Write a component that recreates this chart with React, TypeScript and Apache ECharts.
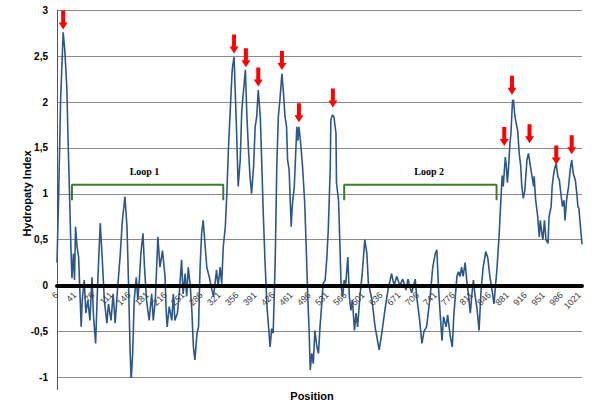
import React, { useEffect, useRef } from 'react';
import * as echarts from 'echarts';

// Residue positions (window centre) and hydropathy values
const positions = [
  6, 9, 13, 18, 21, 25, 28, 31, 33, 35, 38, 40, 42, 45, 48, 53, 55, 59, 62, 66, 70, 74, 77, 81, 85, 90, 94, 98,
  103, 106, 111, 115, 119, 124, 129, 133, 138, 142, 145, 148, 150, 153, 156, 160, 163, 166, 169, 173, 176, 180,
  185, 190, 193, 197, 202, 206, 211, 216, 218, 220, 224, 229, 232, 235, 240, 244, 248, 251, 255, 258, 261, 265,
  268, 271, 274, 278, 281, 284, 287, 290, 294, 297, 302, 307, 310, 313, 316, 319, 323, 326, 329, 333, 336, 339,
  342, 346, 347, 350, 352, 355, 358, 362, 365, 368, 372, 375, 378, 381, 384, 388, 391, 394, 397, 401, 404, 407,
  410, 414, 417, 420, 423, 426, 430, 433, 436, 439, 443, 446, 449, 452, 454, 457, 461, 463, 467, 472, 474, 476,
  479, 483, 487, 490, 493, 496, 498, 501, 504, 507, 511, 514, 517, 520, 523, 527, 530, 533, 537, 538, 541, 544,
  548, 549, 553, 556, 558, 561, 564, 567, 571, 574, 577, 580, 584, 587, 590, 595, 599, 604, 608, 611, 614, 618,
  624, 632, 637, 643, 649, 656, 661, 666, 672, 678, 684, 688, 695, 702, 705, 710, 715, 719, 724, 731, 736, 741,
  744, 747, 750, 754, 757, 762, 765, 770, 774, 777, 783, 786, 789, 792, 795, 799, 802, 805, 809, 812, 815, 818,
  822, 826, 830, 834, 839, 843, 847, 852, 855, 858, 861, 865, 869, 871, 873, 877, 879, 881, 883, 886, 888, 891,
  893, 895, 897, 901, 904, 907, 909, 912, 915, 919, 922, 925, 928, 932, 933, 936, 940, 943, 945, 948, 950, 953,
  956, 960, 962, 966, 968, 971, 974, 976, 979, 982, 985, 988, 991, 993, 996, 1000, 1003, 1006, 1009, 1013, 1016,
  1018, 1020, 1023, 1026,
];
const values = [
  0.25, 0.93, 2.02, 2.76, 2.58, 2.17, 1.48, 0.86, 0.42, 0.08, 0.35, 0.06, 0.64, 0.42, 0.31, -0.45, -0.16, 0.06,
  -0.3, -0.16, -0.38, 0.09, -0.34, -0.63, 0.02, 0.68, 0.28, -0.16, -0.41, -0.2, -0.38, -0.09, -0.41, -0.01, 0.35,
  0.71, 0.97, 0.64, 0.02, -0.7, -1.03, -0.74, -0.16, 0.09, -0.16, 0.06, 0.35, 0.57, 0.2, -0.16, -0.38, -0.09,
  -0.38, -0.16, 0.53, 0.2, 0.38, 0.09, -0.27, -0.45, -0.23, -0.38, -0.09, -0.38, -0.3, -0.05, 0.28, -0.09, 0.13,
  -0.12, 0.2, -0.01, -0.27, -0.67, -0.81, -0.52, -0.45, 0.2, 0.57, 0.71, 0.42, 0.2, 0.09, -0.05, -0.12, 0.02,
  0.17, -0.01, 0.2, 0.02, 0.42, 0.64, 1.0, 1.48, 1.84, 2.31, 2.38, 2.49, 2.16, 1.66, 1.08, 1.37, 1.91, 2.1, 2.35,
  1.84, 1.48, 1.19, 1.0, 1.3, 1.73, 1.84, 2.13, 1.84, 1.3, 0.75, 0.28, -0.23, -0.45, -0.67, -0.47, -0.52, 0.28,
  1.3, 1.84, 2.02, 2.31, 2.1, 1.84, 1.73, 1.37, 1.26, 0.64, 0.86, 1.08, 1.73, 1.58, 1.73, 1.58, 1.3, 0.93, 0.46,
  -0.09, -0.52, -0.92, -0.74, -0.85, -0.49, -0.67, -0.74, -0.45, -0.23, 0.02, 0.06, 0.28, 0.6, 1.3, 1.8, 1.86,
  1.84, 1.66, 1.12, 0.93, 0.38, -0.01, -0.12, 0.06, 0.02, 0.31, -0.12, -0.27, -0.16, -0.49, -0.3, -0.45, -0.09,
  0.13, 0.5, 0.35, 0.02, -0.05, -0.16, -0.45, -0.7, -0.52, -0.27, -0.05, 0.13, 0.0, 0.1, 0.0, 0.07, -0.05, 0.07,
  -0.08, 0.07, -0.13, -0.35, -0.63, -0.5, -0.45, -0.12, 0.2, 0.35, 0.39, 0.0, -0.27, -0.6, -0.34, -0.45, -0.32,
  -0.55, -0.67, -0.32, 0.1, 0.15, 0.1, 0.2, 0.1, 0.25, 0.06, -0.08, -0.3, -0.1, 0.06, -0.1, -0.25, -0.49, -0.04,
  0.2, 0.37, 0.3, 0.1, -0.08, -0.2, 0.0, 0.2, 0.55, 1.0, 1.2, 1.08, 1.4, 1.3, 1.12, 1.26, 1.55, 1.66, 2.02, 2.02,
  1.88, 1.8, 1.69, 1.44, 1.3, 1.08, 0.95, 1.04, 1.37, 1.44, 1.33, 1.22, 1.08, 1.19, 0.93, 0.75, 0.53, 0.71, 0.57,
  0.5, 0.71, 0.5, 0.46, 0.75, 0.86, 1.08, 1.22, 1.3, 1.33, 1.19, 1.15, 1.0, 0.86, 0.93, 0.71, 0.93, 1.08, 1.26,
  1.37, 1.22, 1.15, 1.0, 0.86, 0.84, 0.64, 0.45,
];

// Red arrows marking hydrophobic peaks: position and value of arrow tip
const arrowPositions = [18, 350, 373, 397, 443, 476, 542, 875, 890, 924, 976, 1006];
const arrowTips = [2.79, 2.53, 2.38, 2.17, 2.35, 1.78, 1.94, 1.52, 2.08, 1.55, 1.32, 1.43];

// Loop brackets
const loopNames = ['Loop 1', 'Loop 2'];
const loopStarts = [35, 564];
const loopEnds = [329, 860];
const loopLabelPositions = [176, 729];
const loopTop = 1.1;
const loopBottom = 0.93;
const loopLabelValue = 1.245;

// Axis settings
const xMin = 6;
const xMax = 1026;
const xStep = 35;
const yMin = -1;
const yMax = 3;
const yStep = 0.5;

export default function App() {
  const ref = useRef<HTMLDivElement>(null);
  useEffect(() => {
    const chart = echarts.init(ref.current!, null, { renderer: 'svg' });
    const lineData = positions.map((p, i) => [p, values[i]]);
    const arrowPath = 'path://M2.5,0L6.5,0L6.5,12L9,12L4.5,19L0,12L2.5,12Z';

    const loopSeries = loopNames.map((name, i) => ({
      type: 'line',
      name,
      silent: true,
      symbol: 'none',
      z: 4,
      lineStyle: { color: '#3c7a2c', width: 2 },
      data: [
        [loopStarts[i], loopBottom],
        [loopStarts[i], loopTop],
        [loopEnds[i], loopTop],
        [loopEnds[i], loopBottom],
      ],
      markPoint: {
        symbol: 'rect',
        symbolSize: 1,
        itemStyle: { color: 'rgba(0,0,0,0)' },
        label: {
          show: true,
          position: 'inside',
          formatter: name,
          color: '#000',
          fontFamily: 'Liberation Serif',
          fontWeight: 'bold',
          fontSize: 10,
        },
        data: [{ coord: [loopLabelPositions[i], loopLabelValue] }],
      },
    }));

    chart.setOption({
      animation: false,
      backgroundColor: '#fff',
      grid: [
        { left: 57, right: 18, top: 10.3, bottom: 30.7, outerBoundsMode: 'none' },
        // upper half of the same plot: its bottom edge is the zero line, carrying the x axis
        { left: 57, right: 18, top: 10.3, bottom: 122.5, outerBoundsMode: 'none' },
      ],
      xAxis: [
        {
          type: 'value',
          gridIndex: 0,
          min: xMin,
          max: xMax,
          interval: xStep,
          show: false,
        },
        {
          type: 'value',
          gridIndex: 1,
          min: xMin,
          max: xMax,
          interval: xStep,
          z: 3,
          axisLine: { show: true, onZero: false, lineStyle: { color: '#000', width: 4 } },
          axisTick: { show: false },
          splitLine: { show: false },
          axisLabel: {
            rotate: 45,
            fontSize: 9,
            color: '#404040',
            margin: 8,
            showMaxLabel: false,
            fontFamily: 'Liberation Sans',
            formatter: (v: number) => String(v),
          },
        },
      ],
      yAxis: [
        {
          type: 'value',
          gridIndex: 0,
          min: yMin,
          max: yMax,
          interval: yStep,
          axisLine: { show: true, onZero: false, lineStyle: { color: '#555', width: 1 } },
          axisTick: { show: false },
          splitLine: { show: true, lineStyle: { color: '#8a8a8a', width: 1 } },
          axisLabel: {
            fontSize: 10,
            fontWeight: 'bold',
            color: '#000',
            margin: 9,
            fontFamily: 'Liberation Sans',
            formatter: (v: number) => String(v).replace('.', ','),
          },
        },
        {
          type: 'value',
          gridIndex: 1,
          min: 0,
          max: yMax,
          show: false,
        },
      ],
      series: [
        {
          type: 'line',
          name: 'Hydropathy',
          xAxisIndex: 0,
          yAxisIndex: 0,
          data: lineData,
          showSymbol: false,
          symbol: 'none',
          z: 2,
          lineStyle: { color: '#2d5789', width: 1.6 },
          markPoint: {
            symbol: arrowPath,
            symbolSize: [9, 19],
            symbolOffset: [0, '-50%'],
            itemStyle: { color: '#ff0000' },
            label: { show: false },
            z: 5,
            data: arrowPositions.map((p, i) => ({ coord: [p, arrowTips[i]] })),
          },
        },
        ...loopSeries,
      ],
      graphic: [
        {
          type: 'line',
          shape: { x1: 57.5, y1: 377, x2: 57.5, y2: 390 },
          style: { stroke: '#555', lineWidth: 1 },
        },
        {
          type: 'text',
          x: 27,
          y: 193.5,
          rotation: Math.PI / 2,
          style: {
            text: 'Hydropaty Index',
            fontSize: 11,
            fontWeight: 'bold',
            fontFamily: 'Liberation Sans',
            fill: '#000',
            align: 'center',
            verticalAlign: 'middle',
          },
        },
        {
          type: 'text',
          x: 312,
          y: 396,
          style: {
            text: 'Position',
            fontSize: 11,
            fontWeight: 'bold',
            fontFamily: 'Liberation Sans',
            fill: '#000',
            align: 'center',
            verticalAlign: 'middle',
          },
        },
      ],
    });
    return () => chart.dispose();
  }, []);
  return (
    <div
      ref={ref}
      style={{ position: 'absolute', left: 0, top: 0, width: 600, height: 408 }}
    />
  );
}
